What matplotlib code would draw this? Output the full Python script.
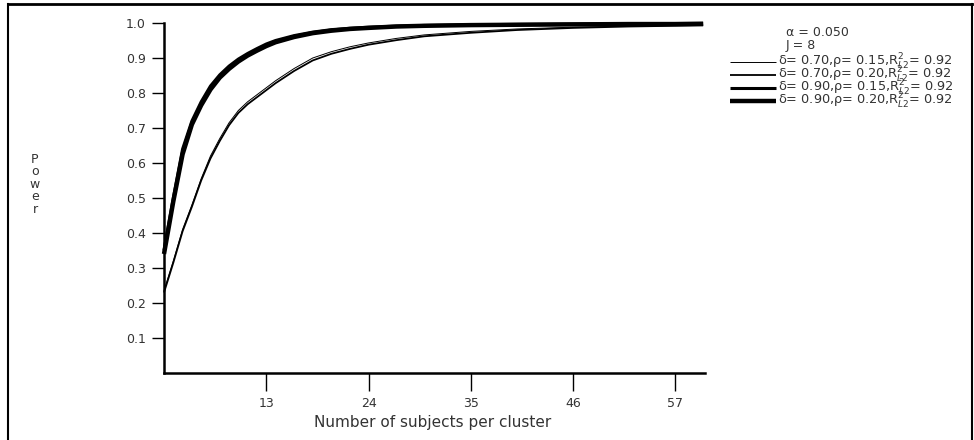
import matplotlib
matplotlib.use("Agg")
import matplotlib.pyplot as plt
from matplotlib.lines import Line2D

plt.rcParams.update({"font.family": ["DejaVu Sans"], "font.size": 9,
                     "mathtext.fontset": "dejavusans"})

INK = "#333333"

# subjects per cluster
n = [2, 3, 4, 5, 6, 7, 8, 9, 10, 11, 12, 13, 14, 16, 18, 20, 22, 24, 27, 30, 35, 40, 46, 52, 57, 60]

pow_d70_r15 = [0.235, 0.32, 0.41, 0.48, 0.555, 0.62, 0.67, 0.715, 0.75, 0.775, 0.795, 0.815, 0.835,
               0.87, 0.90, 0.918, 0.932, 0.943, 0.956, 0.966, 0.976, 0.983, 0.988, 0.991, 0.993, 0.994]
pow_d70_r20 = [0.23, 0.315, 0.405, 0.475, 0.55, 0.613, 0.663, 0.708, 0.743, 0.768, 0.788, 0.808, 0.828,
               0.863, 0.893, 0.912, 0.926, 0.938, 0.951, 0.962, 0.972, 0.98, 0.986, 0.99, 0.992, 0.993]
pow_d90_r15 = [0.35, 0.50, 0.64, 0.72, 0.775, 0.82, 0.852, 0.877, 0.897, 0.913, 0.927, 0.94, 0.95,
               0.964, 0.974, 0.981, 0.985, 0.988, 0.991, 0.993, 0.995, 0.996, 0.997, 0.998, 0.998, 0.998]
pow_d90_r20 = [0.34, 0.49, 0.625, 0.71, 0.765, 0.81, 0.844, 0.869, 0.89, 0.907, 0.921, 0.934, 0.945,
               0.96, 0.971, 0.978, 0.983, 0.986, 0.99, 0.992, 0.994, 0.995, 0.996, 0.997, 0.997, 0.998]

series = [pow_d70_r15, pow_d70_r20, pow_d90_r15, pow_d90_r20]
labels = [r"δ= 0.70,ρ= 0.15,R$^2_{L2}$= 0.92",
          r"δ= 0.70,ρ= 0.20,R$^2_{L2}$= 0.92",
          r"δ= 0.90,ρ= 0.15,R$^2_{L2}$= 0.92",
          r"δ= 0.90,ρ= 0.20,R$^2_{L2}$= 0.92"]
widths = [0.7, 1.3, 2.2, 3.2]

xticks = [13, 24, 35, 46, 57]
yticks = [0.1, 0.2, 0.3, 0.4, 0.5, 0.6, 0.7, 0.8, 0.9, 1.0]

W, H = 974, 440
fig = plt.figure(figsize=(W / 100, H / 100), dpi=100)
ax = fig.add_axes([164 / W, 1 - 373 / H, (705 - 164) / W, (373 - 23) / H])

for y, lw in zip(series, widths):
    ax.plot(n, y, color="black", lw=lw, clip_on=False, solid_capstyle="butt")

ax.set_xlim(2, 60.2)
ax.set_ylim(0, 1.0)
ax.set_xticks(xticks)
ax.set_yticks(yticks)
ax.set_yticklabels([f"{v:.1f}" for v in yticks])
for s in ("top", "right"):
    ax.spines[s].set_visible(False)
for s in ("left", "bottom"):
    ax.spines[s].set_linewidth(1.8)
ax.tick_params(axis="y", direction="out", length=9, width=1, colors="black",
               labelcolor=INK, labelsize=9, pad=4)
ax.tick_params(axis="x", direction="out", length=13, width=1, colors="black",
               labelcolor=INK, labelsize=9, pad=4)

fig.text(433 / W, 1 - 422 / H, "Number of subjects per cluster", ha="center", va="center",
         fontsize=11, color=INK)
fig.text(35 / W, 1 - 184 / H, "P\no\nw\ne\nr", ha="center", va="center", fontsize=9,
         color=INK, linespacing=0.95)

# legend block
fig.text(786 / W, 1 - 33 / H, "α = 0.050", ha="left", va="center", color=INK)
fig.text(786 / W, 1 - 45 / H, "J = 8", ha="left", va="center", color=INK)
rows = [62, 75, 88, 101]
for yy, lw, lab in zip(rows, widths, labels):
    fig.add_artist(Line2D([730 / W, 776 / W], [1 - yy / H] * 2, color="black", lw=lw,
                          solid_capstyle="butt"))
    fig.text(778 / W, 1 - yy / H, lab, ha="left", va="center", color=INK, fontsize=9.3)

# outer frame
fig.add_artist(Line2D([8 / W, 8 / W], [0, 1 - 4 / H], color="black", lw=1.5))
fig.add_artist(Line2D([8 / W, 972 / W], [1 - 4 / H] * 2, color="black", lw=2))
fig.add_artist(Line2D([972 / W, 972 / W], [0, 1 - 4 / H], color="black", lw=1.5))

fig.savefig("out.png", dpi=100)
